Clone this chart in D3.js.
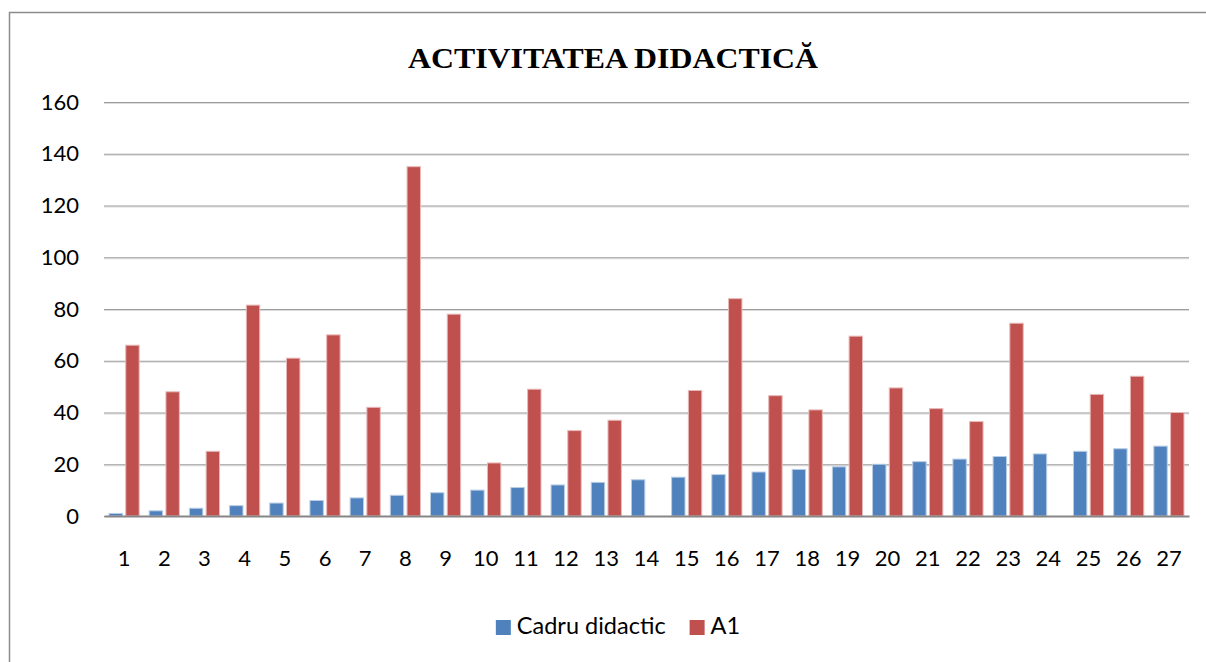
<!DOCTYPE html>
<html>
<head>
<meta charset="utf-8">
<script src="https://cdn.jsdelivr.net/npm/d3@7"></script>
<style>
  body { margin: 0; background: #fff; }
  svg { display: block; }
</style>
</head>
<body>
<svg class="chart_svg" width="1206" height="662"></svg>
<script>
const categories = d3.range(1, 28).map(String);
const seriesNames = ["Cadru didactic", "A1"];
const cadruValues = [1, 2, 3, 4, 5, 6, 7, 8, 9, 10, 11, 12, 13, 14, 15, 16, 17, 18, 19, 20, 21, 22, 23, 24, 25, 26, 27];
const a1Values = [66, 48, 25, 81.5, 61, 70, 42, 135, 78, 20.5, 49, 33, 37, 0, 48.5, 84, 46.5, 41, 69.5, 49.5, 41.5, 36.5, 74.5, 0, 47, 54, 40];
const yTicks = [0, 20, 40, 60, 80, 100, 120, 140, 160];
const colors = ["#4F81BD", "#C0504D"];
const outlines = ["#B9CDE5", "#E6B9B8"];

const margin = { top: 102, right: 17, bottom: 146, left: 104 },
  w = 1206 - margin.left - margin.right,
  h = 662 - margin.top - margin.bottom;

const svg = d3.select(".chart_svg");

// outer frame (runs off the right and bottom edges)
svg.append("rect")
  .attr("x", 9.5)
  .attr("y", 12.5)
  .attr("width", 1300)
  .attr("height", 700)
  .attr("fill", "none")
  .attr("stroke", "#8c8c8c")
  .attr("stroke-width", 1.5);

svg.append("text")
  .attr("x", 613)
  .attr("y", 68)
  .attr("text-anchor", "middle")
  .attr("font-family", "'Liberation Serif', 'Times New Roman', serif")
  .attr("font-weight", 700)
  .attr("font-size", 29)
  .attr("textLength", 410)
  .attr("lengthAdjust", "spacingAndGlyphs")
  .text("ACTIVITATEA DIDACTICĂ");

const rows = categories.map((c, i) => ({ cat: c, values: [cadruValues[i], a1Values[i]] }));

const x0 = d3.scaleBand()
  .domain(categories)
  .range([0, w])
  .paddingInner(0.25)
  .paddingOuter(0.125);

const x1 = d3.scaleBand()
  .domain(seriesNames)
  .range([0, x0.bandwidth()])
  .paddingInner(0.2);

const y = d3.scaleLinear()
  .domain([0, 160])
  .range([h, 0]);

const g = svg.append("g").attr("transform", `translate(${margin.left}, ${margin.top})`);

// gridlines with a soft shadow line below
g.append("g")
  .selectAll("line.shadow")
  .data(yTicks.slice(1))
  .join("line")
  .attr("x1", 0)
  .attr("x2", w)
  .attr("y1", d => y(d) + 1.5)
  .attr("y2", d => y(d) + 1.5)
  .attr("stroke", "#dcdcdc")
  .attr("stroke-width", 1);

const yAxis = g.append("g")
  .call(d3.axisLeft(y).tickValues(yTicks).tickSize(-w).tickPadding(25).tickFormat(d3.format("d")));
yAxis.select(".domain").remove();
yAxis.selectAll(".tick line")
  .attr("stroke", "#9c9c9c")
  .attr("stroke-width", 1.2);
yAxis.selectAll(".tick text")
  .attr("font-family", "Lato, 'Open Sans', sans-serif")
  .attr("font-size", 22)
  .attr("fill", "#000");

const groups = g.selectAll("g.cat")
  .data(rows)
  .join("g")
  .attr("class", "cat")
  .attr("transform", d => `translate(${x0(d.cat)}, 0)`);

groups.selectAll("rect")
  .data(d => d.values.map((v, i) => ({ key: seriesNames[i], value: v, i })))
  .join("rect")
  .filter(d => d.value > 0)
  .attr("x", d => x1(d.key))
  .attr("y", d => y(d.value))
  .attr("width", x1.bandwidth())
  .attr("height", d => h - y(d.value))
  .attr("fill", d => colors[d.i])
  .attr("stroke", d => outlines[d.i])
  .attr("stroke-width", 1);

const xAxis = g.append("g")
  .attr("transform", `translate(0, ${h})`)
  .call(d3.axisBottom(x0).tickSize(0).tickPadding(34));
xAxis.select(".domain")
  .attr("stroke", "#868686")
  .attr("stroke-width", 2);
xAxis.selectAll(".tick text")
  .attr("font-family", "Lato, 'Open Sans', sans-serif")
  .attr("font-size", 22)
  .attr("fill", "#000");

// legend
const legend = svg.append("g");
let lx = 0;
seriesNames.forEach((name, i) => {
  const item = legend.append("g").attr("transform", `translate(${lx}, 0)`);
  item.append("rect")
    .attr("x", 0)
    .attr("y", -14)
    .attr("width", 15)
    .attr("height", 15)
    .attr("fill", colors[i]);
  const t = item.append("text")
    .attr("x", 21)
    .attr("y", 0)
    .attr("font-family", "Lato, 'Open Sans', sans-serif")
    .attr("font-size", 23.5)
    .attr("fill", "#000")
    .text(name);
  lx += 21 + t.node().getComputedTextLength() + 24;
});
const legendW = lx - 24;
legend.attr("transform", `translate(${618 - legendW / 2}, 634)`);
</script>
</body>
</html>
